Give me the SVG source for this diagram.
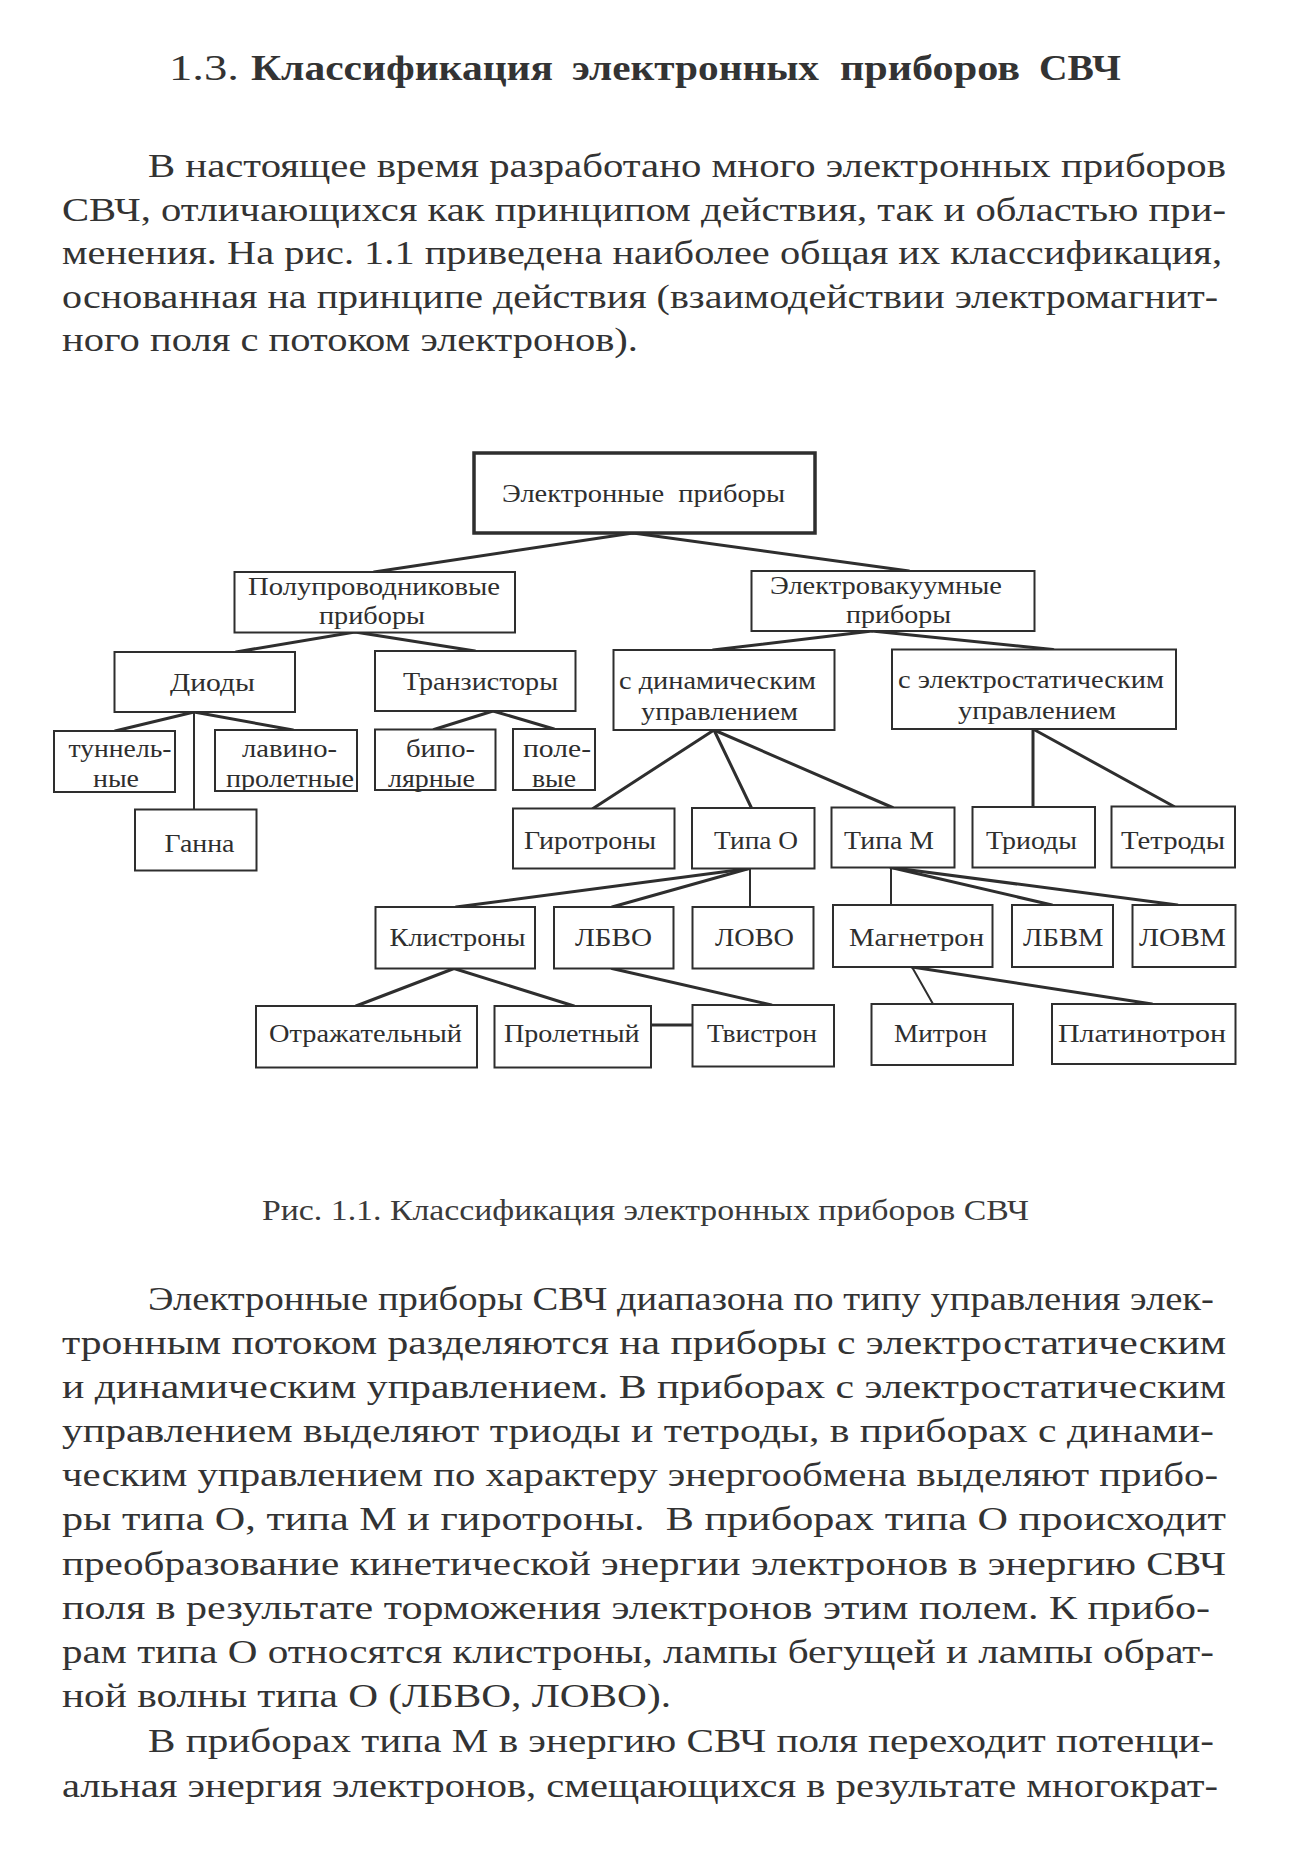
<svg xmlns="http://www.w3.org/2000/svg" width="1291" height="1868" viewBox="0 0 1291 1868">
<style>
.bg{fill:#ffffff}
.box{fill:#ffffff;stroke:#2e2e2e;stroke-width:2}
.root{fill:#ffffff;stroke:#2e2e2e;stroke-width:3.5}
.lbl{font-family:"Liberation Serif","Times New Roman",serif;font-size:26px;fill:#2e2e2e}
.cn line{stroke:#2e2e2e;stroke-width:3;stroke-linecap:round}
.body{font-family:"Liberation Serif","Times New Roman",serif;font-size:34px;fill:#333333}
.title{font-family:"Liberation Serif","Times New Roman",serif;font-size:35px;fill:#333333}
.tb{font-weight:bold}
.cap{font-family:"Liberation Serif","Times New Roman",serif;font-size:29px;fill:#3a3a3a}
</style>
<rect class="bg" x="0" y="0" width="1291" height="1868"/>

<g id="heading">
<text class="title" x="169" y="80" textLength="70" lengthAdjust="spacingAndGlyphs">1.3.</text>
<text class="title tb" x="251" y="80" textLength="302" lengthAdjust="spacingAndGlyphs">Классификация</text>
<text class="title tb" x="572" y="80" textLength="247" lengthAdjust="spacingAndGlyphs">электронных</text>
<text class="title tb" x="840" y="80" textLength="180" lengthAdjust="spacingAndGlyphs">приборов</text>
<text class="title tb" x="1039" y="80" textLength="82" lengthAdjust="spacingAndGlyphs">СВЧ</text>
</g>

<g id="paragraph1">
<text class="body" x="148" y="177" textLength="1078" lengthAdjust="spacingAndGlyphs">В настоящее время разработано много электронных приборов</text>
<text class="body" x="62" y="220.5" textLength="1164" lengthAdjust="spacingAndGlyphs">СВЧ, отличающихся как принципом действия, так и областью при-</text>
<text class="body" x="62" y="264" textLength="1160" lengthAdjust="spacingAndGlyphs">менения. На рис. 1.1 приведена наиболее общая их классификация,</text>
<text class="body" x="62" y="307.5" textLength="1156" lengthAdjust="spacingAndGlyphs">основанная на принципе действия (взаимодействии электромагнит-</text>
<text class="body" x="62" y="351" textLength="576" lengthAdjust="spacingAndGlyphs">ного поля с потоком электронов).</text>
</g>

<g id="connectors" class="cn">
<line x1="633" y1="533" x2="374" y2="572"/>
<line x1="633" y1="533" x2="909" y2="571"/>
<line x1="355" y1="632" x2="236" y2="652"/>
<line x1="355" y1="632" x2="475" y2="651"/>
<line x1="872" y1="631" x2="713" y2="650"/>
<line x1="872" y1="631" x2="1053" y2="649.5"/>
<line x1="194" y1="712" x2="115" y2="731"/>
<line x1="194" y1="712" x2="293" y2="730"/>
<line x1="194" y1="712" x2="194" y2="809.5" style="stroke-width:2"/>
<line x1="493" y1="711" x2="434" y2="729.5"/>
<line x1="493" y1="711" x2="554" y2="729"/>
<line x1="714" y1="730" x2="593" y2="808.5"/>
<line x1="714" y1="730" x2="751.5" y2="808"/>
<line x1="714" y1="730" x2="892.5" y2="807.5"/>
<line x1="1033" y1="729" x2="1033" y2="807"/>
<line x1="1033" y1="729" x2="1174" y2="806.5"/>
<line x1="749" y1="868.5" x2="456" y2="907"/>
<line x1="749" y1="868.5" x2="612" y2="907"/>
<line x1="750" y1="868.5" x2="750" y2="907" style="stroke-width:2"/>
<line x1="891" y1="867.5" x2="891" y2="905" style="stroke-width:2"/>
<line x1="891" y1="867.5" x2="1052" y2="905"/>
<line x1="891" y1="867.5" x2="1177.5" y2="905"/>
<line x1="454" y1="968.5" x2="356" y2="1006"/>
<line x1="454" y1="968.5" x2="574" y2="1006"/>
<line x1="612" y1="968.5" x2="771.5" y2="1005"/>
<line x1="651" y1="1025" x2="692.5" y2="1025"/>
<line x1="912" y1="967" x2="933" y2="1004" style="stroke-width:2"/>
<line x1="912" y1="967" x2="1152" y2="1004"/>
</g>

<g id="n-root"><rect class="root" x="474" y="453" width="341" height="80"/>
<text class="lbl" x="502" y="502" textLength="283" lengthAdjust="spacingAndGlyphs" style="white-space:pre">Электронные  приборы</text></g>

<g id="n-semi"><rect class="box" x="234.5" y="572" width="280.5" height="60.5"/>
<text class="lbl" x="248" y="595" textLength="252" lengthAdjust="spacingAndGlyphs">Полупроводниковые</text>
<text class="lbl" x="319" y="624" textLength="106" lengthAdjust="spacingAndGlyphs">приборы</text></g>

<g id="n-vac"><rect class="box" x="751.5" y="571" width="283" height="60"/>
<text class="lbl" x="770" y="594" textLength="232" lengthAdjust="spacingAndGlyphs">Электровакуумные</text>
<text class="lbl" x="846" y="623" textLength="105" lengthAdjust="spacingAndGlyphs">приборы</text></g>

<g id="n-diodes"><rect class="box" x="114.5" y="652" width="180.5" height="60"/>
<text class="lbl" x="170" y="691" textLength="85" lengthAdjust="spacingAndGlyphs">Диоды</text></g>

<g id="n-trans"><rect class="box" x="375" y="651" width="200.5" height="60"/>
<text class="lbl" x="403" y="690" textLength="155" lengthAdjust="spacingAndGlyphs">Транзисторы</text></g>

<g id="n-dyn"><rect class="box" x="613.5" y="650" width="221" height="80"/>
<text class="lbl" x="619" y="689" textLength="197" lengthAdjust="spacingAndGlyphs">с динамическим</text>
<text class="lbl" x="641" y="720" textLength="157" lengthAdjust="spacingAndGlyphs">управлением</text></g>

<g id="n-stat"><rect class="box" x="892" y="649.5" width="284" height="79.5"/>
<text class="lbl" x="898" y="688" textLength="266" lengthAdjust="spacingAndGlyphs">с электростатическим</text>
<text class="lbl" x="958" y="719" textLength="158" lengthAdjust="spacingAndGlyphs">управлением</text></g>

<g id="n-tunnel"><rect class="box" x="54" y="731" width="121" height="61"/>
<text class="lbl" x="68.5" y="757" textLength="103" lengthAdjust="spacingAndGlyphs">туннель-</text>
<text class="lbl" x="93" y="787" textLength="46" lengthAdjust="spacingAndGlyphs">ные</text></g>

<g id="n-aval"><rect class="box" x="215" y="730" width="142" height="61"/>
<text class="lbl" x="242" y="757" textLength="95" lengthAdjust="spacingAndGlyphs">лавино-</text>
<text class="lbl" x="226" y="787" textLength="128" lengthAdjust="spacingAndGlyphs">пролетные</text></g>

<g id="n-bip"><rect class="box" x="375" y="729.5" width="120.5" height="60.5"/>
<text class="lbl" x="406" y="757" textLength="69" lengthAdjust="spacingAndGlyphs">бипо-</text>
<text class="lbl" x="388" y="787" textLength="87" lengthAdjust="spacingAndGlyphs">лярные</text></g>

<g id="n-field"><rect class="box" x="513" y="729" width="82" height="61"/>
<text class="lbl" x="523" y="757" textLength="68" lengthAdjust="spacingAndGlyphs">поле-</text>
<text class="lbl" x="532" y="787" textLength="44" lengthAdjust="spacingAndGlyphs">вые</text></g>

<g id="n-gunn"><rect class="box" x="135" y="809.5" width="121.5" height="61"/>
<text class="lbl" x="164.5" y="852" textLength="70" lengthAdjust="spacingAndGlyphs">Ганна</text></g>

<g id="n-gyro"><rect class="box" x="513" y="808.5" width="161.5" height="60"/>
<text class="lbl" x="524" y="849" textLength="132" lengthAdjust="spacingAndGlyphs">Гиротроны</text></g>

<g id="n-typeO"><rect class="box" x="692" y="808" width="122.5" height="60.5"/>
<text class="lbl" x="714" y="849" textLength="84" lengthAdjust="spacingAndGlyphs">Типа О</text></g>

<g id="n-typeM"><rect class="box" x="831.5" y="807.5" width="123" height="60"/>
<text class="lbl" x="844" y="849" textLength="90" lengthAdjust="spacingAndGlyphs">Типа М</text></g>

<g id="n-triode"><rect class="box" x="972.5" y="807" width="122.5" height="60.5"/>
<text class="lbl" x="986" y="849" textLength="91" lengthAdjust="spacingAndGlyphs">Триоды</text></g>

<g id="n-tetrode"><rect class="box" x="1111.5" y="806.5" width="123.5" height="61"/>
<text class="lbl" x="1121" y="849" textLength="104" lengthAdjust="spacingAndGlyphs">Тетроды</text></g>

<g id="n-klys"><rect class="box" x="375.5" y="907" width="159.5" height="61.5"/>
<text class="lbl" x="389.5" y="946" textLength="136" lengthAdjust="spacingAndGlyphs">Клистроны</text></g>

<g id="n-lbvo"><rect class="box" x="554" y="907" width="119.5" height="61.5"/>
<text class="lbl" x="575" y="946" textLength="77" lengthAdjust="spacingAndGlyphs">ЛБВО</text></g>

<g id="n-lovo"><rect class="box" x="692.5" y="907" width="121" height="61.5"/>
<text class="lbl" x="715" y="946" textLength="79" lengthAdjust="spacingAndGlyphs">ЛОВО</text></g>

<g id="n-magn"><rect class="box" x="833" y="905" width="159.5" height="62"/>
<text class="lbl" x="849" y="946" textLength="135" lengthAdjust="spacingAndGlyphs">Магнетрон</text></g>

<g id="n-lbvm"><rect class="box" x="1012" y="905" width="101" height="62"/>
<text class="lbl" x="1023" y="946" textLength="80.5" lengthAdjust="spacingAndGlyphs">ЛБВМ</text></g>

<g id="n-lovm"><rect class="box" x="1132.5" y="905" width="103" height="62"/>
<text class="lbl" x="1139" y="946" textLength="87" lengthAdjust="spacingAndGlyphs">ЛОВМ</text></g>

<g id="n-refl"><rect class="box" x="256" y="1006" width="221" height="61.5"/>
<text class="lbl" x="269" y="1042" textLength="193" lengthAdjust="spacingAndGlyphs">Отражательный</text></g>

<g id="n-prol"><rect class="box" x="494.5" y="1006" width="156.5" height="61.5"/>
<text class="lbl" x="504" y="1042" textLength="135.5" lengthAdjust="spacingAndGlyphs">Пролетный</text></g>

<g id="n-twist"><rect class="box" x="692.5" y="1005" width="141.5" height="61.5"/>
<text class="lbl" x="707" y="1042" textLength="110" lengthAdjust="spacingAndGlyphs">Твистрон</text></g>

<g id="n-mitron"><rect class="box" x="871.5" y="1004" width="141.5" height="61"/>
<text class="lbl" x="894" y="1042" textLength="93" lengthAdjust="spacingAndGlyphs">Митрон</text></g>

<g id="n-plat"><rect class="box" x="1052" y="1004" width="183.5" height="60"/>
<text class="lbl" x="1058" y="1042" textLength="168" lengthAdjust="spacingAndGlyphs">Платинотрон</text></g>

<g id="caption">
<text class="cap" x="262" y="1220" textLength="767" lengthAdjust="spacingAndGlyphs">Рис. 1.1. Классификация электронных приборов СВЧ</text>
</g>

<g id="paragraph2">
<text class="body" x="148" y="1310" textLength="1066" lengthAdjust="spacingAndGlyphs">Электронные приборы СВЧ диапазона по типу управления элек-</text>
<text class="body" x="62" y="1354" textLength="1164" lengthAdjust="spacingAndGlyphs">тронным потоком разделяются на приборы с электростатическим</text>
<text class="body" x="62" y="1398" textLength="1164" lengthAdjust="spacingAndGlyphs">и динамическим управлением. В приборах с электростатическим</text>
<text class="body" x="62" y="1442" textLength="1152" lengthAdjust="spacingAndGlyphs">управлением выделяют триоды и тетроды, в приборах с динами-</text>
<text class="body" x="62" y="1486" textLength="1156" lengthAdjust="spacingAndGlyphs">ческим управлением по характеру энергообмена выделяют прибо-</text>
<text class="body" x="62" y="1530" textLength="1164" lengthAdjust="spacingAndGlyphs" style="white-space:pre">ры типа О, типа М и гиротроны.  В приборах типа О происходит</text>
<text class="body" x="62" y="1575" textLength="1164" lengthAdjust="spacingAndGlyphs">преобразование кинетической энергии электронов в энергию СВЧ</text>
<text class="body" x="62" y="1619" textLength="1148" lengthAdjust="spacingAndGlyphs">поля в результате торможения электронов этим полем. К прибо-</text>
<text class="body" x="62" y="1663" textLength="1152" lengthAdjust="spacingAndGlyphs">рам типа О относятся клистроны, лампы бегущей и лампы обрат-</text>
<text class="body" x="62" y="1707" textLength="609" lengthAdjust="spacingAndGlyphs">ной волны типа О (ЛБВО, ЛОВО).</text>
<text class="body" x="148" y="1752" textLength="1066" lengthAdjust="spacingAndGlyphs">В приборах типа М в энергию СВЧ поля переходит потенци-</text>
<text class="body" x="62" y="1797" textLength="1156" lengthAdjust="spacingAndGlyphs">альная энергия электронов, смещающихся в результате многократ-</text>
</g>
</svg>
